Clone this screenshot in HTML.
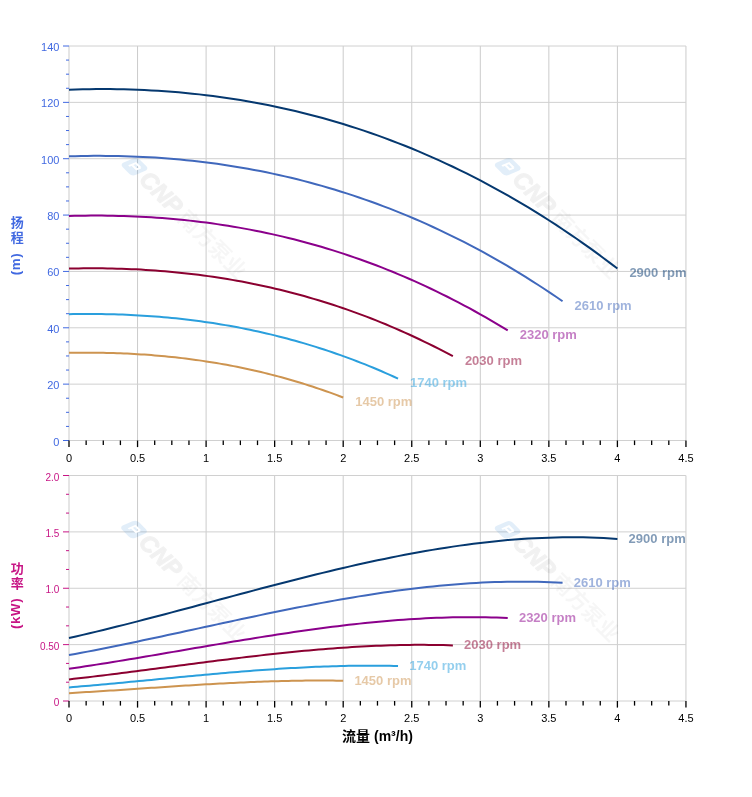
<!DOCTYPE html>
<html lang="zh"><head><meta charset="utf-8"><title>Pump curves</title>
<style>html,body{margin:0;padding:0;background:#fff}svg{display:block}svg text{font-family:"Liberation Sans","Noto Sans CJK SC",sans-serif}</style></head>
<body>
<svg width="752" height="797" viewBox="0 0 752 797" >
<rect width="752" height="797" fill="#fff"/>
<line x1="69.00" y1="46.0" x2="69.00" y2="440.5" stroke="#cbcbcb" stroke-width="1"/>
<line x1="137.55" y1="46.0" x2="137.55" y2="440.5" stroke="#cbcbcb" stroke-width="1"/>
<line x1="206.10" y1="46.0" x2="206.10" y2="440.5" stroke="#cbcbcb" stroke-width="1"/>
<line x1="274.65" y1="46.0" x2="274.65" y2="440.5" stroke="#cbcbcb" stroke-width="1"/>
<line x1="343.20" y1="46.0" x2="343.20" y2="440.5" stroke="#cbcbcb" stroke-width="1"/>
<line x1="411.75" y1="46.0" x2="411.75" y2="440.5" stroke="#cbcbcb" stroke-width="1"/>
<line x1="480.30" y1="46.0" x2="480.30" y2="440.5" stroke="#cbcbcb" stroke-width="1"/>
<line x1="548.85" y1="46.0" x2="548.85" y2="440.5" stroke="#cbcbcb" stroke-width="1"/>
<line x1="617.40" y1="46.0" x2="617.40" y2="440.5" stroke="#cbcbcb" stroke-width="1"/>
<line x1="685.95" y1="46.0" x2="685.95" y2="440.5" stroke="#cbcbcb" stroke-width="1"/>
<line x1="69.0" y1="440.50" x2="685.95" y2="440.50" stroke="#d0d0d0" stroke-width="1"/>
<line x1="69.0" y1="384.14" x2="685.95" y2="384.14" stroke="#d0d0d0" stroke-width="1"/>
<line x1="69.0" y1="327.79" x2="685.95" y2="327.79" stroke="#d0d0d0" stroke-width="1"/>
<line x1="69.0" y1="271.43" x2="685.95" y2="271.43" stroke="#d0d0d0" stroke-width="1"/>
<line x1="69.0" y1="215.07" x2="685.95" y2="215.07" stroke="#d0d0d0" stroke-width="1"/>
<line x1="69.0" y1="158.71" x2="685.95" y2="158.71" stroke="#d0d0d0" stroke-width="1"/>
<line x1="69.0" y1="102.36" x2="685.95" y2="102.36" stroke="#d0d0d0" stroke-width="1"/>
<line x1="69.0" y1="46.00" x2="685.95" y2="46.00" stroke="#d0d0d0" stroke-width="1"/>
<line x1="63.00" y1="440.50" x2="69.00" y2="440.50" stroke="#4169e1" stroke-width="1"/>
<text x="59.40" y="445.50" font-size="11" fill="#4169e1" text-anchor="end">0</text>
<line x1="66.00" y1="426.41" x2="69.00" y2="426.41" stroke="#4169e1" stroke-width="1"/>
<line x1="66.00" y1="412.32" x2="69.00" y2="412.32" stroke="#4169e1" stroke-width="1"/>
<line x1="66.00" y1="398.23" x2="69.00" y2="398.23" stroke="#4169e1" stroke-width="1"/>
<line x1="63.00" y1="384.14" x2="69.00" y2="384.14" stroke="#4169e1" stroke-width="1"/>
<text x="59.40" y="389.14" font-size="11" fill="#4169e1" text-anchor="end">20</text>
<line x1="66.00" y1="370.05" x2="69.00" y2="370.05" stroke="#4169e1" stroke-width="1"/>
<line x1="66.00" y1="355.96" x2="69.00" y2="355.96" stroke="#4169e1" stroke-width="1"/>
<line x1="66.00" y1="341.88" x2="69.00" y2="341.88" stroke="#4169e1" stroke-width="1"/>
<line x1="63.00" y1="327.79" x2="69.00" y2="327.79" stroke="#4169e1" stroke-width="1"/>
<text x="59.40" y="332.79" font-size="11" fill="#4169e1" text-anchor="end">40</text>
<line x1="66.00" y1="313.70" x2="69.00" y2="313.70" stroke="#4169e1" stroke-width="1"/>
<line x1="66.00" y1="299.61" x2="69.00" y2="299.61" stroke="#4169e1" stroke-width="1"/>
<line x1="66.00" y1="285.52" x2="69.00" y2="285.52" stroke="#4169e1" stroke-width="1"/>
<line x1="63.00" y1="271.43" x2="69.00" y2="271.43" stroke="#4169e1" stroke-width="1"/>
<text x="59.40" y="276.43" font-size="11" fill="#4169e1" text-anchor="end">60</text>
<line x1="66.00" y1="257.34" x2="69.00" y2="257.34" stroke="#4169e1" stroke-width="1"/>
<line x1="66.00" y1="243.25" x2="69.00" y2="243.25" stroke="#4169e1" stroke-width="1"/>
<line x1="66.00" y1="229.16" x2="69.00" y2="229.16" stroke="#4169e1" stroke-width="1"/>
<line x1="63.00" y1="215.07" x2="69.00" y2="215.07" stroke="#4169e1" stroke-width="1"/>
<text x="59.40" y="220.07" font-size="11" fill="#4169e1" text-anchor="end">80</text>
<line x1="66.00" y1="200.98" x2="69.00" y2="200.98" stroke="#4169e1" stroke-width="1"/>
<line x1="66.00" y1="186.89" x2="69.00" y2="186.89" stroke="#4169e1" stroke-width="1"/>
<line x1="66.00" y1="172.80" x2="69.00" y2="172.80" stroke="#4169e1" stroke-width="1"/>
<line x1="63.00" y1="158.71" x2="69.00" y2="158.71" stroke="#4169e1" stroke-width="1"/>
<text x="59.40" y="163.71" font-size="11" fill="#4169e1" text-anchor="end">100</text>
<line x1="66.00" y1="144.62" x2="69.00" y2="144.62" stroke="#4169e1" stroke-width="1"/>
<line x1="66.00" y1="130.54" x2="69.00" y2="130.54" stroke="#4169e1" stroke-width="1"/>
<line x1="66.00" y1="116.45" x2="69.00" y2="116.45" stroke="#4169e1" stroke-width="1"/>
<line x1="63.00" y1="102.36" x2="69.00" y2="102.36" stroke="#4169e1" stroke-width="1"/>
<text x="59.40" y="107.36" font-size="11" fill="#4169e1" text-anchor="end">120</text>
<line x1="66.00" y1="88.27" x2="69.00" y2="88.27" stroke="#4169e1" stroke-width="1"/>
<line x1="66.00" y1="74.18" x2="69.00" y2="74.18" stroke="#4169e1" stroke-width="1"/>
<line x1="66.00" y1="60.09" x2="69.00" y2="60.09" stroke="#4169e1" stroke-width="1"/>
<line x1="63.00" y1="46.00" x2="69.00" y2="46.00" stroke="#4169e1" stroke-width="1"/>
<text x="59.40" y="51.00" font-size="11" fill="#4169e1" text-anchor="end">140</text>
<line x1="69.00" y1="440.5" x2="69.00" y2="447.1" stroke="#000" stroke-width="1.3"/>
<text x="69.00" y="462.20" font-size="11" fill="#000" text-anchor="middle">0</text>
<line x1="86.14" y1="440.5" x2="86.14" y2="445.1" stroke="#000" stroke-width="1.3"/>
<line x1="103.28" y1="440.5" x2="103.28" y2="445.1" stroke="#000" stroke-width="1.3"/>
<line x1="120.41" y1="440.5" x2="120.41" y2="445.1" stroke="#000" stroke-width="1.3"/>
<line x1="137.55" y1="440.5" x2="137.55" y2="447.1" stroke="#000" stroke-width="1.3"/>
<text x="137.55" y="462.20" font-size="11" fill="#000" text-anchor="middle">0.5</text>
<line x1="154.69" y1="440.5" x2="154.69" y2="445.1" stroke="#000" stroke-width="1.3"/>
<line x1="171.82" y1="440.5" x2="171.82" y2="445.1" stroke="#000" stroke-width="1.3"/>
<line x1="188.96" y1="440.5" x2="188.96" y2="445.1" stroke="#000" stroke-width="1.3"/>
<line x1="206.10" y1="440.5" x2="206.10" y2="447.1" stroke="#000" stroke-width="1.3"/>
<text x="206.10" y="462.20" font-size="11" fill="#000" text-anchor="middle">1</text>
<line x1="223.24" y1="440.5" x2="223.24" y2="445.1" stroke="#000" stroke-width="1.3"/>
<line x1="240.38" y1="440.5" x2="240.38" y2="445.1" stroke="#000" stroke-width="1.3"/>
<line x1="257.51" y1="440.5" x2="257.51" y2="445.1" stroke="#000" stroke-width="1.3"/>
<line x1="274.65" y1="440.5" x2="274.65" y2="447.1" stroke="#000" stroke-width="1.3"/>
<text x="274.65" y="462.20" font-size="11" fill="#000" text-anchor="middle">1.5</text>
<line x1="291.79" y1="440.5" x2="291.79" y2="445.1" stroke="#000" stroke-width="1.3"/>
<line x1="308.92" y1="440.5" x2="308.92" y2="445.1" stroke="#000" stroke-width="1.3"/>
<line x1="326.06" y1="440.5" x2="326.06" y2="445.1" stroke="#000" stroke-width="1.3"/>
<line x1="343.20" y1="440.5" x2="343.20" y2="447.1" stroke="#000" stroke-width="1.3"/>
<text x="343.20" y="462.20" font-size="11" fill="#000" text-anchor="middle">2</text>
<line x1="360.34" y1="440.5" x2="360.34" y2="445.1" stroke="#000" stroke-width="1.3"/>
<line x1="377.47" y1="440.5" x2="377.47" y2="445.1" stroke="#000" stroke-width="1.3"/>
<line x1="394.61" y1="440.5" x2="394.61" y2="445.1" stroke="#000" stroke-width="1.3"/>
<line x1="411.75" y1="440.5" x2="411.75" y2="447.1" stroke="#000" stroke-width="1.3"/>
<text x="411.75" y="462.20" font-size="11" fill="#000" text-anchor="middle">2.5</text>
<line x1="428.89" y1="440.5" x2="428.89" y2="445.1" stroke="#000" stroke-width="1.3"/>
<line x1="446.02" y1="440.5" x2="446.02" y2="445.1" stroke="#000" stroke-width="1.3"/>
<line x1="463.16" y1="440.5" x2="463.16" y2="445.1" stroke="#000" stroke-width="1.3"/>
<line x1="480.30" y1="440.5" x2="480.30" y2="447.1" stroke="#000" stroke-width="1.3"/>
<text x="480.30" y="462.20" font-size="11" fill="#000" text-anchor="middle">3</text>
<line x1="497.44" y1="440.5" x2="497.44" y2="445.1" stroke="#000" stroke-width="1.3"/>
<line x1="514.58" y1="440.5" x2="514.58" y2="445.1" stroke="#000" stroke-width="1.3"/>
<line x1="531.71" y1="440.5" x2="531.71" y2="445.1" stroke="#000" stroke-width="1.3"/>
<line x1="548.85" y1="440.5" x2="548.85" y2="447.1" stroke="#000" stroke-width="1.3"/>
<text x="548.85" y="462.20" font-size="11" fill="#000" text-anchor="middle">3.5</text>
<line x1="565.99" y1="440.5" x2="565.99" y2="445.1" stroke="#000" stroke-width="1.3"/>
<line x1="583.12" y1="440.5" x2="583.12" y2="445.1" stroke="#000" stroke-width="1.3"/>
<line x1="600.26" y1="440.5" x2="600.26" y2="445.1" stroke="#000" stroke-width="1.3"/>
<line x1="617.40" y1="440.5" x2="617.40" y2="447.1" stroke="#000" stroke-width="1.3"/>
<text x="617.40" y="462.20" font-size="11" fill="#000" text-anchor="middle">4</text>
<line x1="634.54" y1="440.5" x2="634.54" y2="445.1" stroke="#000" stroke-width="1.3"/>
<line x1="651.67" y1="440.5" x2="651.67" y2="445.1" stroke="#000" stroke-width="1.3"/>
<line x1="668.81" y1="440.5" x2="668.81" y2="445.1" stroke="#000" stroke-width="1.3"/>
<line x1="685.95" y1="440.5" x2="685.95" y2="447.1" stroke="#000" stroke-width="1.3"/>
<text x="685.95" y="462.20" font-size="11" fill="#000" text-anchor="middle">4.5</text>
<g transform="translate(134.5,166.7) rotate(45)"><rect x="-8.7" y="-8.7" width="17.4" height="17.4" rx="4" fill="#1e78d2" fill-opacity="0.13" transform="skewX(-22)"/><path d="M3.5,-3.5 H-3 V3.5 M-3,0.5 H3.5 V-3.5" fill="none" stroke="#fff" stroke-width="2" transform="skewX(-22)"/><text x="12.5" y="7.5" font-size="23.5" font-weight="bold" font-style="italic" fill="#000" stroke="#000" stroke-width="1.3" stroke-linejoin="round" opacity="0.05">CNP</text><text x="67" y="7.5" font-size="21.5" font-weight="bold" fill="#000" opacity="0.032">南方泵业</text></g>
<g transform="translate(507.7,166.7) rotate(45)"><rect x="-8.7" y="-8.7" width="17.4" height="17.4" rx="4" fill="#1e78d2" fill-opacity="0.13" transform="skewX(-22)"/><path d="M3.5,-3.5 H-3 V3.5 M-3,0.5 H3.5 V-3.5" fill="none" stroke="#fff" stroke-width="2" transform="skewX(-22)"/><text x="12.5" y="7.5" font-size="23.5" font-weight="bold" font-style="italic" fill="#000" stroke="#000" stroke-width="1.3" stroke-linejoin="round" opacity="0.05">CNP</text><text x="67" y="7.5" font-size="21.5" font-weight="bold" fill="#000" opacity="0.032">南方泵业</text></g>
<polyline points="69.00,89.67 75.86,89.46 82.71,89.29 89.56,89.17 96.42,89.10 103.28,89.09 110.13,89.12 116.98,89.20 123.84,89.34 130.69,89.52 137.55,89.76 144.41,90.06 151.26,90.40 158.12,90.81 164.97,91.26 171.82,91.77 178.68,92.34 185.54,92.96 192.39,93.64 199.25,94.38 206.10,95.18 212.96,96.03 219.81,96.94 226.67,97.91 233.52,98.95 240.38,100.04 247.23,101.19 254.09,102.41 260.94,103.69 267.80,105.03 274.65,106.43 281.50,107.90 288.36,109.43 295.22,111.02 302.07,112.68 308.92,114.41 315.78,116.20 322.63,118.06 329.49,119.99 336.35,121.98 343.20,124.04 350.06,126.18 356.91,128.38 363.76,130.65 370.62,132.99 377.47,135.40 384.33,137.88 391.19,140.44 398.04,143.07 404.90,145.77 411.75,148.54 418.61,151.39 425.46,154.31 432.32,157.31 439.17,160.39 446.02,163.54 452.88,166.76 459.74,170.07 466.59,173.45 473.44,176.91 480.30,180.45 487.16,184.06 494.01,187.76 500.87,191.54 507.72,195.40 514.58,199.34 521.43,203.36 528.28,207.46 535.14,211.65 542.00,215.92 548.85,220.27 555.71,224.71 562.56,229.24 569.41,233.85 576.27,238.54 583.12,243.32 589.98,248.19 596.84,253.15 603.69,258.19 610.54,263.33 617.40,268.55" fill="none" stroke="#05386f" stroke-width="2" stroke-linecap="butt" stroke-linejoin="round"/>
<text x="629.40" y="277.05" font-size="13" font-weight="bold" fill="#05386f" fill-opacity="0.5">2900 rpm</text>
<polyline points="69.00,156.33 75.17,156.16 81.34,156.02 87.51,155.93 93.68,155.87 99.85,155.86 106.02,155.88 112.19,155.95 118.36,156.06 124.53,156.21 130.69,156.40 136.86,156.64 143.03,156.92 149.20,157.25 155.37,157.62 161.54,158.03 167.71,158.49 173.88,158.99 180.05,159.55 186.22,160.14 192.39,160.79 198.56,161.48 204.73,162.22 210.90,163.01 217.07,163.84 223.24,164.73 229.41,165.66 235.58,166.65 241.75,167.68 247.92,168.77 254.08,169.90 260.25,171.09 266.42,172.33 272.59,173.62 278.76,174.97 284.93,176.37 291.10,177.82 297.27,179.32 303.44,180.88 309.61,182.50 315.78,184.17 321.95,185.90 328.12,187.68 334.29,189.52 340.46,191.42 346.63,193.37 352.80,195.38 358.97,197.45 365.14,199.58 371.31,201.77 377.47,204.01 383.64,206.32 389.81,208.69 395.98,211.12 402.15,213.61 408.32,216.16 414.49,218.77 420.66,221.45 426.83,224.19 433.00,226.99 439.17,229.86 445.34,232.79 451.51,235.78 457.68,238.84 463.85,241.97 470.02,245.16 476.19,248.41 482.36,251.74 488.53,255.13 494.70,258.59 500.86,262.12 507.03,265.71 513.20,269.38 519.37,273.11 525.54,276.91 531.71,280.79 537.88,284.73 544.05,288.74 550.22,292.83 556.39,296.99 562.56,301.22" fill="none" stroke="#4068bc" stroke-width="2" stroke-linecap="butt" stroke-linejoin="round"/>
<text x="574.56" y="309.72" font-size="13" font-weight="bold" fill="#4068bc" fill-opacity="0.5">2610 rpm</text>
<polyline points="69.00,215.97 74.48,215.83 79.97,215.73 85.45,215.65 90.94,215.61 96.42,215.60 101.90,215.62 107.39,215.67 112.87,215.76 118.36,215.88 123.84,216.03 129.32,216.22 134.81,216.44 140.29,216.70 145.78,216.99 151.26,217.31 156.74,217.68 162.23,218.08 167.71,218.51 173.20,218.98 178.68,219.49 184.16,220.04 189.65,220.62 195.13,221.25 200.62,221.91 206.10,222.61 211.58,223.34 217.07,224.12 222.55,224.94 228.04,225.80 233.52,226.69 239.00,227.63 244.49,228.61 249.97,229.63 255.46,230.70 260.94,231.80 266.42,232.95 271.91,234.14 277.39,235.37 282.88,236.65 288.36,237.97 293.84,239.33 299.33,240.74 304.81,242.19 310.30,243.69 315.78,245.24 321.26,246.83 326.75,248.46 332.23,250.14 337.72,251.87 343.20,253.65 348.68,255.47 354.17,257.34 359.65,259.26 365.14,261.23 370.62,263.24 376.10,265.31 381.59,267.42 387.07,269.59 392.56,271.80 398.04,274.06 403.52,276.38 409.01,278.75 414.49,281.16 419.98,283.63 425.46,286.16 430.94,288.73 436.43,291.36 441.91,294.04 447.40,296.77 452.88,299.55 458.36,302.40 463.85,305.29 469.33,308.24 474.82,311.25 480.30,314.31 485.78,317.42 491.27,320.59 496.75,323.82 502.24,327.11 507.72,330.45" fill="none" stroke="#8b008b" stroke-width="2" stroke-linecap="butt" stroke-linejoin="round"/>
<text x="519.72" y="338.95" font-size="13" font-weight="bold" fill="#8b008b" fill-opacity="0.5">2320 rpm</text>
<polyline points="69.00,268.59 73.80,268.49 78.60,268.41 83.40,268.35 88.19,268.32 92.99,268.31 97.79,268.32 102.59,268.36 107.39,268.43 112.19,268.52 116.98,268.64 121.78,268.78 126.58,268.95 131.38,269.15 136.18,269.37 140.98,269.62 145.78,269.90 150.57,270.21 155.37,270.54 160.17,270.90 164.97,271.29 169.77,271.71 174.57,272.16 179.37,272.63 184.16,273.14 188.96,273.67 193.76,274.24 198.56,274.84 203.36,275.46 208.16,276.12 212.95,276.81 217.75,277.52 222.55,278.27 227.35,279.06 232.15,279.87 236.95,280.72 241.75,281.59 246.54,282.50 251.34,283.45 256.14,284.43 260.94,285.44 265.74,286.48 270.54,287.56 275.34,288.67 280.13,289.82 284.93,291.00 289.73,292.22 294.53,293.47 299.33,294.76 304.13,296.08 308.92,297.44 313.72,298.84 318.52,300.27 323.32,301.74 328.12,303.24 332.92,304.79 337.72,306.37 342.51,307.99 347.31,309.64 352.11,311.34 356.91,313.07 361.71,314.85 366.51,316.66 371.31,318.51 376.10,320.40 380.90,322.33 385.70,324.30 390.50,326.31 395.30,328.36 400.10,330.46 404.89,332.59 409.69,334.76 414.49,336.98 419.29,339.24 424.09,341.54 428.89,343.88 433.69,346.27 438.48,348.70 443.28,351.17 448.08,353.68 452.88,356.24" fill="none" stroke="#8b0030" stroke-width="2" stroke-linecap="butt" stroke-linejoin="round"/>
<text x="464.88" y="364.74" font-size="13" font-weight="bold" fill="#8b0030" fill-opacity="0.5">2030 rpm</text>
<polyline points="69.00,314.20 73.11,314.12 77.23,314.06 81.34,314.02 85.45,314.00 89.56,313.99 93.68,314.00 97.79,314.03 101.90,314.08 106.02,314.15 110.13,314.24 114.24,314.34 118.36,314.47 122.47,314.61 126.58,314.77 130.69,314.96 134.81,315.16 138.92,315.39 143.03,315.63 147.15,315.90 151.26,316.18 155.37,316.49 159.49,316.82 163.60,317.17 167.71,317.54 171.82,317.93 175.94,318.35 180.05,318.79 184.16,319.25 188.28,319.73 192.39,320.23 196.50,320.76 200.62,321.31 204.73,321.89 208.84,322.49 212.96,323.11 217.07,323.75 221.18,324.42 225.29,325.12 229.41,325.83 233.52,326.58 237.63,327.34 241.75,328.14 245.86,328.95 249.97,329.80 254.08,330.66 258.20,331.56 262.31,332.48 266.42,333.42 270.54,334.40 274.65,335.40 278.76,336.42 282.88,337.47 286.99,338.55 291.10,339.66 295.21,340.79 299.33,341.95 303.44,343.14 307.55,344.36 311.67,345.61 315.78,346.88 319.89,348.18 324.01,349.51 328.12,350.87 332.23,352.26 336.34,353.68 340.46,355.13 344.57,356.61 348.68,358.11 352.80,359.65 356.91,361.22 361.02,362.82 365.14,364.44 369.25,366.10 373.36,367.79 377.47,369.52 381.59,371.27 385.70,373.05 389.81,374.87 393.93,376.72 398.04,378.60" fill="none" stroke="#2a9fdd" stroke-width="2" stroke-linecap="butt" stroke-linejoin="round"/>
<text x="410.04" y="387.10" font-size="13" font-weight="bold" fill="#2a9fdd" fill-opacity="0.5">1740 rpm</text>
<polyline points="69.00,352.79 72.43,352.74 75.86,352.70 79.28,352.67 82.71,352.65 86.14,352.65 89.56,352.65 92.99,352.68 96.42,352.71 99.85,352.76 103.28,352.82 106.70,352.89 110.13,352.98 113.56,353.08 116.98,353.19 120.41,353.32 123.84,353.46 127.27,353.62 130.69,353.79 134.12,353.97 137.55,354.17 140.98,354.38 144.41,354.61 147.83,354.85 151.26,355.11 154.69,355.38 158.12,355.67 161.54,355.98 164.97,356.30 168.40,356.63 171.82,356.98 175.25,357.35 178.68,357.73 182.11,358.13 185.54,358.55 188.96,358.98 192.39,359.43 195.82,359.89 199.25,360.37 202.67,360.87 206.10,361.39 209.53,361.92 212.96,362.47 216.38,363.04 219.81,363.62 223.24,364.22 226.67,364.85 230.09,365.48 233.52,366.14 236.95,366.82 240.38,367.51 243.80,368.22 247.23,368.95 250.66,369.70 254.09,370.47 257.51,371.26 260.94,372.07 264.37,372.89 267.80,373.74 271.22,374.60 274.65,375.49 278.08,376.39 281.50,377.32 284.93,378.26 288.36,379.22 291.79,380.21 295.22,381.21 298.64,382.24 302.07,383.29 305.50,384.35 308.92,385.44 312.35,386.55 315.78,387.68 319.21,388.84 322.63,390.01 326.06,391.21 329.49,392.42 332.92,393.66 336.35,394.92 339.77,396.21 343.20,397.51" fill="none" stroke="#cd9450" stroke-width="2" stroke-linecap="butt" stroke-linejoin="round"/>
<text x="355.20" y="406.01" font-size="13" font-weight="bold" fill="#cd9450" fill-opacity="0.5">1450 rpm</text>
<line x1="69.00" y1="475.5" x2="69.00" y2="701.0" stroke="#cbcbcb" stroke-width="1"/>
<line x1="137.55" y1="475.5" x2="137.55" y2="701.0" stroke="#cbcbcb" stroke-width="1"/>
<line x1="206.10" y1="475.5" x2="206.10" y2="701.0" stroke="#cbcbcb" stroke-width="1"/>
<line x1="274.65" y1="475.5" x2="274.65" y2="701.0" stroke="#cbcbcb" stroke-width="1"/>
<line x1="343.20" y1="475.5" x2="343.20" y2="701.0" stroke="#cbcbcb" stroke-width="1"/>
<line x1="411.75" y1="475.5" x2="411.75" y2="701.0" stroke="#cbcbcb" stroke-width="1"/>
<line x1="480.30" y1="475.5" x2="480.30" y2="701.0" stroke="#cbcbcb" stroke-width="1"/>
<line x1="548.85" y1="475.5" x2="548.85" y2="701.0" stroke="#cbcbcb" stroke-width="1"/>
<line x1="617.40" y1="475.5" x2="617.40" y2="701.0" stroke="#cbcbcb" stroke-width="1"/>
<line x1="685.95" y1="475.5" x2="685.95" y2="701.0" stroke="#cbcbcb" stroke-width="1"/>
<line x1="69.0" y1="701.00" x2="685.95" y2="701.00" stroke="#d0d0d0" stroke-width="1"/>
<line x1="69.0" y1="644.62" x2="685.95" y2="644.62" stroke="#d0d0d0" stroke-width="1"/>
<line x1="69.0" y1="588.25" x2="685.95" y2="588.25" stroke="#d0d0d0" stroke-width="1"/>
<line x1="69.0" y1="531.88" x2="685.95" y2="531.88" stroke="#d0d0d0" stroke-width="1"/>
<line x1="69.0" y1="475.50" x2="685.95" y2="475.50" stroke="#d0d0d0" stroke-width="1"/>
<line x1="63.00" y1="701.00" x2="69.00" y2="701.00" stroke="#c71585" stroke-width="1"/>
<text x="59.40" y="706.20" font-size="10" fill="#c71585" text-anchor="end">0</text>
<line x1="66.00" y1="682.21" x2="69.00" y2="682.21" stroke="#c71585" stroke-width="1"/>
<line x1="66.00" y1="663.42" x2="69.00" y2="663.42" stroke="#c71585" stroke-width="1"/>
<line x1="63.00" y1="644.62" x2="69.00" y2="644.62" stroke="#c71585" stroke-width="1"/>
<text x="59.40" y="649.83" font-size="10" fill="#c71585" text-anchor="end">0.50</text>
<line x1="66.00" y1="625.83" x2="69.00" y2="625.83" stroke="#c71585" stroke-width="1"/>
<line x1="66.00" y1="607.04" x2="69.00" y2="607.04" stroke="#c71585" stroke-width="1"/>
<line x1="63.00" y1="588.25" x2="69.00" y2="588.25" stroke="#c71585" stroke-width="1"/>
<text x="59.40" y="593.45" font-size="10" fill="#c71585" text-anchor="end">1.0</text>
<line x1="66.00" y1="569.46" x2="69.00" y2="569.46" stroke="#c71585" stroke-width="1"/>
<line x1="66.00" y1="550.67" x2="69.00" y2="550.67" stroke="#c71585" stroke-width="1"/>
<line x1="63.00" y1="531.88" x2="69.00" y2="531.88" stroke="#c71585" stroke-width="1"/>
<text x="59.40" y="537.08" font-size="10" fill="#c71585" text-anchor="end">1.5</text>
<line x1="66.00" y1="513.08" x2="69.00" y2="513.08" stroke="#c71585" stroke-width="1"/>
<line x1="66.00" y1="494.29" x2="69.00" y2="494.29" stroke="#c71585" stroke-width="1"/>
<line x1="63.00" y1="475.50" x2="69.00" y2="475.50" stroke="#c71585" stroke-width="1"/>
<text x="59.40" y="480.70" font-size="10" fill="#c71585" text-anchor="end">2.0</text>
<line x1="69.00" y1="701.0" x2="69.00" y2="707.6" stroke="#000" stroke-width="1.3"/>
<text x="69.00" y="722.30" font-size="11" fill="#000" text-anchor="middle">0</text>
<line x1="86.14" y1="701.0" x2="86.14" y2="705.6" stroke="#000" stroke-width="1.3"/>
<line x1="103.28" y1="701.0" x2="103.28" y2="705.6" stroke="#000" stroke-width="1.3"/>
<line x1="120.41" y1="701.0" x2="120.41" y2="705.6" stroke="#000" stroke-width="1.3"/>
<line x1="137.55" y1="701.0" x2="137.55" y2="707.6" stroke="#000" stroke-width="1.3"/>
<text x="137.55" y="722.30" font-size="11" fill="#000" text-anchor="middle">0.5</text>
<line x1="154.69" y1="701.0" x2="154.69" y2="705.6" stroke="#000" stroke-width="1.3"/>
<line x1="171.82" y1="701.0" x2="171.82" y2="705.6" stroke="#000" stroke-width="1.3"/>
<line x1="188.96" y1="701.0" x2="188.96" y2="705.6" stroke="#000" stroke-width="1.3"/>
<line x1="206.10" y1="701.0" x2="206.10" y2="707.6" stroke="#000" stroke-width="1.3"/>
<text x="206.10" y="722.30" font-size="11" fill="#000" text-anchor="middle">1</text>
<line x1="223.24" y1="701.0" x2="223.24" y2="705.6" stroke="#000" stroke-width="1.3"/>
<line x1="240.38" y1="701.0" x2="240.38" y2="705.6" stroke="#000" stroke-width="1.3"/>
<line x1="257.51" y1="701.0" x2="257.51" y2="705.6" stroke="#000" stroke-width="1.3"/>
<line x1="274.65" y1="701.0" x2="274.65" y2="707.6" stroke="#000" stroke-width="1.3"/>
<text x="274.65" y="722.30" font-size="11" fill="#000" text-anchor="middle">1.5</text>
<line x1="291.79" y1="701.0" x2="291.79" y2="705.6" stroke="#000" stroke-width="1.3"/>
<line x1="308.92" y1="701.0" x2="308.92" y2="705.6" stroke="#000" stroke-width="1.3"/>
<line x1="326.06" y1="701.0" x2="326.06" y2="705.6" stroke="#000" stroke-width="1.3"/>
<line x1="343.20" y1="701.0" x2="343.20" y2="707.6" stroke="#000" stroke-width="1.3"/>
<text x="343.20" y="722.30" font-size="11" fill="#000" text-anchor="middle">2</text>
<line x1="360.34" y1="701.0" x2="360.34" y2="705.6" stroke="#000" stroke-width="1.3"/>
<line x1="377.47" y1="701.0" x2="377.47" y2="705.6" stroke="#000" stroke-width="1.3"/>
<line x1="394.61" y1="701.0" x2="394.61" y2="705.6" stroke="#000" stroke-width="1.3"/>
<line x1="411.75" y1="701.0" x2="411.75" y2="707.6" stroke="#000" stroke-width="1.3"/>
<text x="411.75" y="722.30" font-size="11" fill="#000" text-anchor="middle">2.5</text>
<line x1="428.89" y1="701.0" x2="428.89" y2="705.6" stroke="#000" stroke-width="1.3"/>
<line x1="446.02" y1="701.0" x2="446.02" y2="705.6" stroke="#000" stroke-width="1.3"/>
<line x1="463.16" y1="701.0" x2="463.16" y2="705.6" stroke="#000" stroke-width="1.3"/>
<line x1="480.30" y1="701.0" x2="480.30" y2="707.6" stroke="#000" stroke-width="1.3"/>
<text x="480.30" y="722.30" font-size="11" fill="#000" text-anchor="middle">3</text>
<line x1="497.44" y1="701.0" x2="497.44" y2="705.6" stroke="#000" stroke-width="1.3"/>
<line x1="514.58" y1="701.0" x2="514.58" y2="705.6" stroke="#000" stroke-width="1.3"/>
<line x1="531.71" y1="701.0" x2="531.71" y2="705.6" stroke="#000" stroke-width="1.3"/>
<line x1="548.85" y1="701.0" x2="548.85" y2="707.6" stroke="#000" stroke-width="1.3"/>
<text x="548.85" y="722.30" font-size="11" fill="#000" text-anchor="middle">3.5</text>
<line x1="565.99" y1="701.0" x2="565.99" y2="705.6" stroke="#000" stroke-width="1.3"/>
<line x1="583.12" y1="701.0" x2="583.12" y2="705.6" stroke="#000" stroke-width="1.3"/>
<line x1="600.26" y1="701.0" x2="600.26" y2="705.6" stroke="#000" stroke-width="1.3"/>
<line x1="617.40" y1="701.0" x2="617.40" y2="707.6" stroke="#000" stroke-width="1.3"/>
<text x="617.40" y="722.30" font-size="11" fill="#000" text-anchor="middle">4</text>
<line x1="634.54" y1="701.0" x2="634.54" y2="705.6" stroke="#000" stroke-width="1.3"/>
<line x1="651.67" y1="701.0" x2="651.67" y2="705.6" stroke="#000" stroke-width="1.3"/>
<line x1="668.81" y1="701.0" x2="668.81" y2="705.6" stroke="#000" stroke-width="1.3"/>
<line x1="685.95" y1="701.0" x2="685.95" y2="707.6" stroke="#000" stroke-width="1.3"/>
<text x="685.95" y="722.30" font-size="11" fill="#000" text-anchor="middle">4.5</text>
<g transform="translate(134,529.5) rotate(45)"><rect x="-8.7" y="-8.7" width="17.4" height="17.4" rx="4" fill="#1e78d2" fill-opacity="0.13" transform="skewX(-22)"/><path d="M3.5,-3.5 H-3 V3.5 M-3,0.5 H3.5 V-3.5" fill="none" stroke="#fff" stroke-width="2" transform="skewX(-22)"/><text x="12.5" y="7.5" font-size="23.5" font-weight="bold" font-style="italic" fill="#000" stroke="#000" stroke-width="1.3" stroke-linejoin="round" opacity="0.05">CNP</text><text x="67" y="7.5" font-size="21.5" font-weight="bold" fill="#000" opacity="0.032">南方泵业</text></g>
<g transform="translate(507.6,529.8) rotate(45)"><rect x="-8.7" y="-8.7" width="17.4" height="17.4" rx="4" fill="#1e78d2" fill-opacity="0.13" transform="skewX(-22)"/><path d="M3.5,-3.5 H-3 V3.5 M-3,0.5 H3.5 V-3.5" fill="none" stroke="#fff" stroke-width="2" transform="skewX(-22)"/><text x="12.5" y="7.5" font-size="23.5" font-weight="bold" font-style="italic" fill="#000" stroke="#000" stroke-width="1.3" stroke-linejoin="round" opacity="0.05">CNP</text><text x="67" y="7.5" font-size="21.5" font-weight="bold" fill="#000" opacity="0.032">南方泵业</text></g>
<polyline points="69.00,638.02 75.86,636.46 82.71,634.87 89.56,633.26 96.42,631.62 103.28,629.96 110.13,628.27 116.98,626.57 123.84,624.85 130.69,623.11 137.55,621.36 144.41,619.59 151.26,617.80 158.12,616.01 164.97,614.20 171.82,612.39 178.68,610.57 185.54,608.74 192.39,606.91 199.25,605.07 206.10,603.23 212.96,601.39 219.81,599.55 226.67,597.71 233.52,595.87 240.38,594.04 247.23,592.21 254.09,590.39 260.94,588.58 267.80,586.78 274.65,584.98 281.50,583.21 288.36,581.44 295.22,579.69 302.07,577.95 308.92,576.24 315.78,574.54 322.63,572.86 329.49,571.21 336.35,569.57 343.20,567.96 350.06,566.38 356.91,564.82 363.76,563.30 370.62,561.80 377.47,560.33 384.33,558.90 391.19,557.50 398.04,556.13 404.90,554.80 411.75,553.51 418.61,552.25 425.46,551.04 432.32,549.87 439.17,548.74 446.02,547.66 452.88,546.62 459.74,545.63 466.59,544.69 473.44,543.79 480.30,542.95 487.16,542.16 494.01,541.43 500.87,540.75 507.72,540.12 514.58,539.56 521.43,539.05 528.28,538.60 535.14,538.22 542.00,537.90 548.85,537.64 555.71,537.45 562.56,537.33 569.41,537.27 576.27,537.28 583.12,537.37 589.98,537.53 596.84,537.76 603.69,538.07 610.54,538.45 617.40,538.91" fill="none" stroke="#05386f" stroke-width="2" stroke-linejoin="round"/>
<text x="628.60" y="542.91" font-size="13" font-weight="bold" fill="#05386f" fill-opacity="0.5">2900 rpm</text>
<polyline points="69.00,655.09 75.17,653.95 81.34,652.79 87.51,651.61 93.68,650.42 99.85,649.21 106.02,647.98 112.19,646.74 118.36,645.49 124.53,644.22 130.69,642.94 136.86,641.65 143.03,640.35 149.20,639.04 155.37,637.73 161.54,636.40 167.71,635.08 173.88,633.74 180.05,632.41 186.22,631.07 192.39,629.72 198.56,628.38 204.73,627.04 210.90,625.70 217.07,624.36 223.24,623.02 229.41,621.69 235.58,620.37 241.75,619.04 247.92,617.73 254.08,616.42 260.25,615.13 266.42,613.84 272.59,612.56 278.76,611.30 284.93,610.05 291.10,608.81 297.27,607.59 303.44,606.38 309.61,605.19 315.78,604.02 321.95,602.86 328.12,601.73 334.29,600.61 340.46,599.52 346.63,598.45 352.80,597.41 358.97,596.38 365.14,595.39 371.31,594.42 377.47,593.48 383.64,592.56 389.81,591.68 395.98,590.83 402.15,590.00 408.32,589.21 414.49,588.46 420.66,587.73 426.83,587.05 433.00,586.40 439.17,585.78 445.34,585.21 451.51,584.67 457.68,584.18 463.85,583.72 470.02,583.31 476.19,582.94 482.36,582.61 488.53,582.33 494.70,582.10 500.86,581.91 507.03,581.77 513.20,581.68 519.37,581.64 525.54,581.65 531.71,581.71 537.88,581.83 544.05,582.00 550.22,582.22 556.39,582.50 562.56,582.84" fill="none" stroke="#4068bc" stroke-width="2" stroke-linejoin="round"/>
<text x="573.76" y="586.84" font-size="13" font-weight="bold" fill="#4068bc" fill-opacity="0.5">2610 rpm</text>
<polyline points="69.00,668.76 74.48,667.96 79.97,667.14 85.45,666.32 90.94,665.48 96.42,664.63 101.90,663.76 107.39,662.89 112.87,662.01 118.36,661.12 123.84,660.22 129.32,659.32 134.81,658.40 140.29,657.48 145.78,656.56 151.26,655.63 156.74,654.70 162.23,653.76 167.71,652.82 173.20,651.88 178.68,650.94 184.16,650.00 189.65,649.06 195.13,648.11 200.62,647.17 206.10,646.24 211.58,645.30 217.07,644.37 222.55,643.44 228.04,642.52 233.52,641.60 239.00,640.69 244.49,639.79 249.97,638.89 255.46,638.00 260.94,637.12 266.42,636.25 271.91,635.39 277.39,634.55 282.88,633.71 288.36,632.89 293.84,632.08 299.33,631.28 304.81,630.50 310.30,629.73 315.78,628.98 321.26,628.24 326.75,627.53 332.23,626.83 337.72,626.15 343.20,625.48 348.68,624.84 354.17,624.22 359.65,623.62 365.14,623.04 370.62,622.49 376.10,621.96 381.59,621.45 387.07,620.97 392.56,620.51 398.04,620.08 403.52,619.68 409.01,619.30 414.49,618.95 419.98,618.63 425.46,618.34 430.94,618.08 436.43,617.85 441.91,617.66 447.40,617.49 452.88,617.36 458.36,617.26 463.85,617.20 469.33,617.17 474.82,617.18 480.30,617.22 485.78,617.30 491.27,617.42 496.75,617.58 502.24,617.78 507.72,618.01" fill="none" stroke="#8b008b" stroke-width="2" stroke-linejoin="round"/>
<text x="518.92" y="622.01" font-size="13" font-weight="bold" fill="#8b008b" fill-opacity="0.5">2320 rpm</text>
<polyline points="69.00,679.40 73.80,678.86 78.60,678.32 83.40,677.76 88.19,677.20 92.99,676.63 97.79,676.05 102.59,675.47 107.39,674.88 112.19,674.28 116.98,673.68 121.78,673.07 126.58,672.46 131.38,671.85 136.18,671.23 140.98,670.61 145.78,669.98 150.57,669.35 155.37,668.73 160.17,668.10 164.97,667.46 169.77,666.83 174.57,666.20 179.37,665.57 184.16,664.94 188.96,664.31 193.76,663.69 198.56,663.06 203.36,662.44 208.16,661.82 212.95,661.21 217.75,660.60 222.55,659.99 227.35,659.39 232.15,658.80 236.95,658.21 241.75,657.62 246.54,657.05 251.34,656.48 256.14,655.92 260.94,655.37 265.74,654.83 270.54,654.29 275.34,653.77 280.13,653.25 284.93,652.75 289.73,652.26 294.53,651.78 299.33,651.31 304.13,650.85 308.92,650.41 313.72,649.98 318.52,649.56 323.32,649.16 328.12,648.78 332.92,648.40 337.72,648.05 342.51,647.71 347.31,647.38 352.11,647.08 356.91,646.79 361.71,646.52 366.51,646.27 371.31,646.03 376.10,645.82 380.90,645.63 385.70,645.45 390.50,645.30 395.30,645.17 400.10,645.06 404.89,644.97 409.69,644.90 414.49,644.86 419.29,644.84 424.09,644.85 428.89,644.88 433.69,644.93 438.48,645.01 443.28,645.11 448.08,645.25 452.88,645.40" fill="none" stroke="#8b0030" stroke-width="2" stroke-linejoin="round"/>
<text x="464.08" y="649.40" font-size="13" font-weight="bold" fill="#8b0030" fill-opacity="0.5">2030 rpm</text>
<polyline points="69.00,687.40 73.11,687.06 77.23,686.72 81.34,686.37 85.45,686.01 89.56,685.65 93.68,685.29 97.79,684.92 101.90,684.55 106.02,684.18 110.13,683.80 114.24,683.41 118.36,683.03 122.47,682.64 126.58,682.25 130.69,681.86 134.81,681.47 138.92,681.07 143.03,680.68 147.15,680.28 151.26,679.88 155.37,679.48 159.49,679.09 163.60,678.69 167.71,678.29 171.82,677.90 175.94,677.50 180.05,677.11 184.16,676.72 188.28,676.33 192.39,675.94 196.50,675.56 200.62,675.18 204.73,674.80 208.84,674.42 212.96,674.05 217.07,673.68 221.18,673.32 225.29,672.96 229.41,672.61 233.52,672.26 237.63,671.92 241.75,671.59 245.86,671.26 249.97,670.93 254.08,670.62 258.20,670.31 262.31,670.00 266.42,669.71 270.54,669.42 274.65,669.14 278.76,668.87 282.88,668.61 286.99,668.36 291.10,668.11 295.21,667.88 299.33,667.65 303.44,667.44 307.55,667.24 311.67,667.04 315.78,666.86 319.89,666.69 324.01,666.53 328.12,666.39 332.23,666.25 336.34,666.13 340.46,666.02 344.57,665.92 348.68,665.84 352.80,665.77 356.91,665.71 361.02,665.67 365.14,665.65 369.25,665.63 373.36,665.64 377.47,665.66 381.59,665.69 385.70,665.74 389.81,665.81 393.93,665.89 398.04,665.99" fill="none" stroke="#2a9fdd" stroke-width="2" stroke-linejoin="round"/>
<text x="409.24" y="669.99" font-size="13" font-weight="bold" fill="#2a9fdd" fill-opacity="0.5">1740 rpm</text>
<polyline points="69.00,693.13 72.43,692.93 75.86,692.73 79.28,692.53 82.71,692.33 86.14,692.12 89.56,691.91 92.99,691.70 96.42,691.48 99.85,691.26 103.28,691.04 106.70,690.82 110.13,690.60 113.56,690.38 116.98,690.15 120.41,689.92 123.84,689.70 127.27,689.47 130.69,689.24 134.12,689.01 137.55,688.78 140.98,688.55 144.41,688.32 147.83,688.09 151.26,687.86 154.69,687.63 158.12,687.40 161.54,687.17 164.97,686.95 168.40,686.72 171.82,686.50 175.25,686.28 178.68,686.05 182.11,685.84 185.54,685.62 188.96,685.40 192.39,685.19 195.82,684.98 199.25,684.78 202.67,684.57 206.10,684.37 209.53,684.17 212.96,683.98 216.38,683.79 219.81,683.60 223.24,683.42 226.67,683.24 230.09,683.06 233.52,682.89 236.95,682.72 240.38,682.56 243.80,682.41 247.23,682.26 250.66,682.11 254.09,681.97 257.51,681.83 260.94,681.70 264.37,681.58 267.80,681.46 271.22,681.35 274.65,681.24 278.08,681.15 281.50,681.05 284.93,680.97 288.36,680.89 291.79,680.82 295.22,680.76 298.64,680.70 302.07,680.65 305.50,680.61 308.92,680.58 312.35,680.56 315.78,680.54 319.21,680.53 322.63,680.54 326.06,680.55 329.49,680.57 332.92,680.60 336.35,680.63 339.77,680.68 343.20,680.74" fill="none" stroke="#cd9450" stroke-width="2" stroke-linejoin="round"/>
<text x="354.40" y="684.74" font-size="13" font-weight="bold" fill="#cd9450" fill-opacity="0.5">1450 rpm</text>
<text x="377.5" y="740.5" font-size="14" font-weight="bold" fill="#000" text-anchor="middle">流量 (m³/h)</text>
<text x="17.3" y="227.2" font-size="13" font-weight="bold" fill="#4169e1" text-anchor="middle">扬</text>
<text x="17.3" y="242.2" font-size="13" font-weight="bold" fill="#4169e1" text-anchor="middle">程</text>
<text transform="translate(20.4,264) rotate(-90)" font-size="13.33" letter-spacing="0.6" font-weight="bold" fill="#4169e1" text-anchor="middle">(m)</text>
<text x="17.3" y="573.2" font-size="13" font-weight="bold" fill="#c71585" text-anchor="middle">功</text>
<text x="17.3" y="588.2" font-size="13" font-weight="bold" fill="#c71585" text-anchor="middle">率</text>
<text transform="translate(20.4,613.4) rotate(-90)" font-size="13.33" letter-spacing="0.6" font-weight="bold" fill="#c71585" text-anchor="middle">(kW)</text>
</svg>
</body></html>
